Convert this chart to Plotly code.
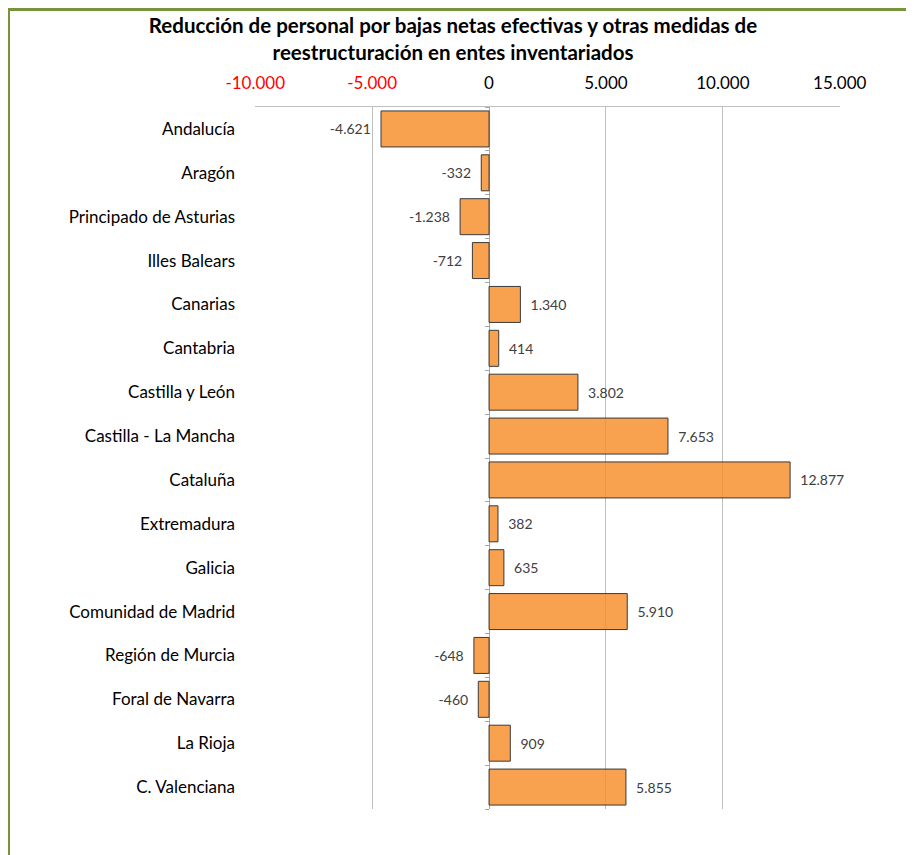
import plotly.graph_objects as go

regions = ["Andalucía", "Aragón", "Principado de Asturias", "Illes Balears", "Canarias",
           "Cantabria", "Castilla y León", "Castilla - La Mancha", "Cataluña", "Extremadura",
           "Galicia", "Comunidad de Madrid", "Región de Murcia", "Foral de Navarra",
           "La Rioja", "C. Valenciana"]
values = [-4621, -332, -1238, -712, 1340, 414, 3802, 7653, 12877, 382, 635, 5910,
          -648, -460, 909, 5855]
x_ticks = [-10000, -5000, 0, 5000, 10000, 15000]


def fmt(v):
    s = f"{abs(v):,}".replace(",", ".")
    return ("-" if v < 0 else "") + s


x_ticktext = [f'<span style="color:#FF0000">{fmt(t)}</span>' if t < 0 else fmt(t) for t in x_ticks]
bar_text = [(fmt(v) + "  ") if v < 0 else ("  " + fmt(v)) for v in values]
idx = list(range(len(regions)))

W, H = 906, 847
L, R, T, B = 247, 74, 99, 46
PW, PH = W - L - R, H - T - B

fig = go.Figure()
fig.add_trace(go.Bar(
    y=idx, x=values, orientation="h",
    marker=dict(color="rgba(247,140,40,0.82)", line=dict(color="#3a3a3a", width=1)),
    text=bar_text, textposition="outside",
    textfont=dict(family="Lato, sans-serif", size=14, color="#404040"),
    cliponaxis=False, width=0.82, hoverinfo="skip",
))
# invisible trace on secondary y axis for small ticks at x=0
fig.add_trace(go.Scatter(x=[0], y=[0], yaxis="y2", mode="markers",
                         marker=dict(opacity=0), hoverinfo="skip", showlegend=False))

fig.update_layout(
    width=W, height=H,
    margin=dict(l=L, r=R, t=T, b=B, autoexpand=False),
    paper_bgcolor="white", plot_bgcolor="white",
    showlegend=False,
    font=dict(family="Lato, sans-serif", color="#000000"),
    title=dict(
        text="Reducción de personal por bajas netas efectivas y otras medidas de<br>reestructuración en entes inventariados",
        x=445 / W, xanchor="center", xref="container",
        y=1 - 25 / H, yanchor="middle", yref="container",
        font=dict(family="Lato, sans-serif", size=20.5, color="#000000", weight="bold"),
    ),
    xaxis=dict(
        side="top", range=[-10010, 15010], tickvals=x_ticks, ticktext=x_ticktext,
        showgrid=True, gridcolor="#bfbfbf", gridwidth=1,
        zeroline=True, zerolinecolor="#a6a6a6", zerolinewidth=1,
        showline=True, linecolor="#bfbfbf", linewidth=1, mirror=False,
        ticks="", ticklabelstandoff=10,
        tickfont=dict(family="Lato, sans-serif", size=17, color="#000000"),
        fixedrange=True,
    ),
    yaxis=dict(
        range=[15.5, -0.5], tickvals=idx, ticktext=regions,
        showgrid=False, zeroline=False, showline=False, ticks="",
        ticklabelstandoff=19,
        tickfont=dict(family="Lato, sans-serif", size=17, color="#000000"),
        fixedrange=True,
    ),
    yaxis2=dict(
        overlaying="y", anchor="free", position=0.4, side="left",
        range=[15.5, -0.5], tickvals=[i + 0.5 for i in range(-1, 16)],
        showticklabels=False, ticks="outside", ticklen=4, tickcolor="#a6a6a6",
        showline=False, showgrid=False, zeroline=False, fixedrange=True,
    ),
    bargap=0.18,
)

# green frame (top and left)
fig.add_shape(type="line", xref="paper", yref="paper",
              x0=(0 - L) / PW, x1=(W - L) / PW,
              y0=(H - B - 1.5) / PH, y1=(H - B - 1.5) / PH,
              line=dict(color="#77933C", width=3))
fig.add_shape(type="line", xref="paper", yref="paper",
              x0=(0.5 - L) / PW, x1=(0.5 - L) / PW,
              y0=(H - B) / PH, y1=(-B) / PH,
              line=dict(color="#77933C", width=3))

fig.write_html("out.html")
